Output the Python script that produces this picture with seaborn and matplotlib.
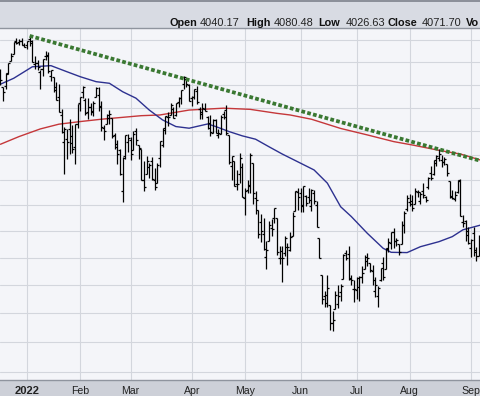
import numpy as np
import pandas as pd
import matplotlib
matplotlib.use("Agg")
import matplotlib.pyplot as plt
from matplotlib.patches import Rectangle
from matplotlib.lines import Line2D
from matplotlib.ticker import NullLocator
import seaborn as sns

# ---------------- data ----------------
market_holidays = ["2021-12-24", "2022-01-17", "2022-02-21", "2022-04-15",
                   "2022-05-30", "2022-06-20", "2022-07-04", "2022-09-05"]
first_day, last_day = "2021-12-17", "2022-09-08"

opens = [
    4652, 4588, 4595, 4650, 4703, 4734, 4795, 4789, 4795, 4775,
    4778, 4804, 4788, 4693, 4698, 4656, 4670, 4729, 4733, 4637, 4632, 4588, 4547, 4471, 4356, 4366, 4408, 4380, 4336, 4431,
    4519, 4566, 4535, 4483, 4505, 4480, 4547, 4553, 4506, 4413, 4429, 4456, 4456, 4385, 4333, 4324, 4155, 4298, 4354,
    4363, 4322, 4401, 4342, 4327, 4202, 4224, 4252, 4279, 4202, 4188, 4288, 4345, 4407, 4462, 4469, 4494, 4469, 4523, 4541, 4603, 4624, 4600,
    4540, 4547, 4572, 4494, 4474, 4494, 4462, 4437, 4394, 4449, 4385, 4390, 4473, 4490, 4385, 4255, 4278, 4186, 4223, 4253,
    4131, 4159, 4182, 4270, 4128, 4081, 4035, 3991, 3903, 3963, 4013, 4052, 4052, 3900, 3927, 3919, 3942, 3929, 3984, 4077, 4151,
    4149, 4096, 4137, 4134, 4096, 4147, 4102, 3974, 3838, 3763, 3765, 3728, 3665, 3715, 3733, 3774, 3821, 3920, 3913, 3826, 3785,
    3781, 3792, 3831, 3858, 3888, 3880, 3851, 3779, 3763, 3818, 3883, 3860, 3935, 3955, 3998, 3965, 3953, 3951, 4026, 4087,
    4112, 4104, 4107, 4154, 4116, 4155, 4133, 4171, 4227, 4225, 4269, 4290, 4281, 4273, 4266, 4195, 4133, 4126, 4154, 4198, 4034, 4041, 4000,
    3936, 3994, 3930, 3909, 3959,
]
highs = [
    4667, 4588, 4651, 4698, 4741, 4791, 4807, 4804, 4809, 4787,
    4797, 4819, 4798, 4725, 4708, 4666, 4714, 4749, 4745, 4666, 4632, 4612, 4602, 4494, 4417, 4411, 4453, 4428, 4432, 4516,
    4546, 4595, 4542, 4540, 4522, 4531, 4590, 4588, 4527, 4426, 4472, 4490, 4456, 4394, 4362, 4327, 4294, 4385, 4388,
    4375, 4401, 4416, 4342, 4327, 4276, 4299, 4268, 4292, 4247, 4271, 4358, 4412, 4465, 4481, 4522, 4501, 4520, 4546, 4575, 4637, 4627, 4603,
    4549, 4583, 4593, 4504, 4521, 4521, 4464, 4471, 4453, 4452, 4410, 4471, 4488, 4513, 4385, 4299, 4278, 4240, 4308, 4269,
    4169, 4200, 4308, 4270, 4157, 4081, 4068, 4050, 3964, 4038, 4046, 4091, 4052, 3945, 3943, 3981, 3955, 3999, 4075, 4158, 4169,
    4167, 4178, 4142, 4169, 4165, 4160, 4119, 3974, 3838, 3778, 3837, 3728, 3708, 3780, 3801, 3803, 3914, 3928, 3946, 3837, 3818,
    3830, 3832, 3870, 3910, 3919, 3880, 3873, 3829, 3796, 3863, 3902, 3939, 3974, 3999, 4012, 3975, 3953, 4040, 4079, 4140,
    4145, 4140, 4168, 4161, 4152, 4187, 4137, 4211, 4258, 4280, 4302, 4325, 4302, 4293, 4266, 4195, 4160, 4157, 4201, 4203, 4062, 4044, 4015,
    3970, 4018, 3942, 3987, 4011,
]
lows = [
    4600, 4531, 4583, 4645, 4703, 4734, 4780, 4778, 4775, 4766,
    4758, 4774, 4699, 4671, 4663, 4582, 4638, 4711, 4650, 4614, 4568, 4533, 4483, 4395, 4223, 4287, 4304, 4309, 4264, 4415,
    4484, 4544, 4470, 4451, 4471, 4465, 4547, 4484, 4401, 4364, 4429, 4429, 4373, 4327, 4267, 4221, 4115, 4287, 4315,
    4283, 4322, 4345, 4284, 4199, 4158, 4224, 4209, 4202, 4161, 4187, 4251, 4335, 4390, 4424, 4469, 4455, 4466, 4505, 4517, 4581, 4588, 4530,
    4507, 4539, 4514, 4450, 4450, 4485, 4408, 4381, 4392, 4392, 4370, 4390, 4452, 4384, 4267, 4201, 4175, 4162, 4188, 4132,
    4063, 4147, 4148, 4106, 4068, 3975, 3958, 3928, 3859, 3963, 3983, 4033, 3911, 3876, 3810, 3909, 3875, 3925, 3984, 4077, 4083,
    4073, 4074, 4098, 4109, 4080, 4107, 4017, 3900, 3734, 3722, 3722, 3640, 3637, 3715, 3717, 3743, 3821, 3891, 3820, 3800, 3739,
    3752, 3742, 3809, 3858, 3869, 3847, 3802, 3759, 3722, 3817, 3818, 3860, 3922, 3933, 3938, 3946, 3910, 3951, 3992, 4079,
    4096, 4079, 4107, 4135, 4107, 4129, 4112, 4164, 4201, 4219, 4256, 4277, 4253, 4261, 4218, 4129, 4124, 4119, 4147, 4058, 4017, 3965, 3954,
    3904, 3906, 3887, 3906, 3945,
]
closes = [
    4621, 4568, 4649, 4697, 4726, 4791, 4786, 4793, 4779, 4766,
    4797, 4794, 4701, 4696, 4677, 4670, 4713, 4726, 4659, 4663, 4577, 4533, 4483, 4398, 4410, 4356, 4350, 4327, 4432, 4516,
    4547, 4589, 4477, 4501, 4484, 4522, 4587, 4504, 4419, 4402, 4471, 4475, 4380, 4349, 4305, 4226, 4289, 4385, 4374,
    4306, 4387, 4363, 4329, 4201, 4171, 4278, 4260, 4204, 4173, 4262, 4358, 4412, 4463, 4461, 4512, 4456, 4520, 4543, 4576, 4632, 4602, 4530,
    4546, 4583, 4525, 4481, 4500, 4488, 4413, 4397, 4447, 4393, 4392, 4462, 4459, 4394, 4272, 4296, 4175, 4184, 4288, 4132,
    4155, 4175, 4300, 4147, 4123, 3991, 4001, 3935, 3930, 4024, 4008, 4089, 3924, 3901, 3901, 3974, 3941, 3979, 4058, 4158, 4132,
    4101, 4177, 4109, 4121, 4161, 4116, 4018, 3901, 3750, 3735, 3790, 3667, 3675, 3765, 3760, 3796, 3912, 3900, 3822, 3819, 3785,
    3825, 3831, 3845, 3903, 3899, 3854, 3819, 3802, 3790, 3863, 3831, 3937, 3960, 3999, 3962, 3967, 3921, 4024, 4072, 4130,
    4119, 4091, 4155, 4152, 4145, 4140, 4122, 4210, 4207, 4280, 4297, 4305, 4274, 4284, 4228, 4138, 4129, 4141, 4199, 4058, 4031, 3986, 3955,
    3967, 3924, 3908, 3980, 4006,
]

# 50-day moving average (blue), read at trading-day offsets from 2022-01-03
ma50_days = [-10, -5, 2, 9, 15, 20, 26, 31, 36, 41, 46, 51, 56, 61, 68, 71, 76, 81,
             86, 91, 96, 103, 108, 113, 118, 122, 128, 134, 137, 143, 148, 155, 160, 164, 171]
ma50_vals = [4602, 4628, 4679, 4684, 4657, 4635, 4613, 4606, 4569, 4541, 4490, 4448, 4420, 4413, 4431, 4420, 4399, 4381,
             4367, 4336, 4306, 4268, 4241, 4188, 4095, 4057, 3993, 3936, 3921, 3920, 3942, 3961, 3980, 4006, 4025]
# 200-day moving average (red)
ma200_days = [-10, -3, 5, 12, 20, 28, 35, 43, 50, 61, 74, 84, 94, 99, 107, 118, 128, 138, 145, 155, 163, 171]
ma200_vals = [4346, 4378, 4410, 4430, 4441, 4451, 4458, 4466, 4469, 4490, 4498, 4493, 4476, 4469, 4451, 4412, 4385,
              4357, 4343, 4321, 4306, 4280]
# down-trend line through the January, March and August highs
trend_days = [1, 171]
trend_vals = [4818.62, 4277]

month_starts = ["2022-01-03", "2022-02-01", "2022-03-01", "2022-04-01", "2022-05-02",
                "2022-06-01", "2022-07-01", "2022-08-01", "2022-09-01"]
month_labels = ["2022", "Feb", "Mar", "Apr", "May", "Jun", "Jul", "Aug", "Sep"]
grid_prices = list(range(3500, 4900, 100))

header_names = ["Open", "High", "Low", "Close", "Vo"]
header_values = ["4040.17", "4080.48", "4026.63", "4071.70", ""]

# ---------------- build ----------------
days = pd.bdate_range(first_day, last_day).difference(pd.to_datetime(market_holidays))
origin = days.get_loc(pd.Timestamp("2022-01-03"))
idx = np.arange(len(days)) - origin
df = pd.DataFrame({"day": idx, "open": opens, "high": highs, "low": lows, "close": closes})
month_pos = [days.get_loc(pd.Timestamp(d)) - origin for d in month_starts]

sns.set_theme(style="whitegrid")
plt.rcParams["font.family"] = ["Liberation Sans", "DejaVu Sans"]

W, H = 480, 396
fig = plt.figure(figsize=(W / 100, H / 100), dpi=100)
fig.patch.set_facecolor("#d7dae2")

top_px, bot_px = 28, 380
ax = fig.add_axes([0, (H - bot_px) / H, 1, (bot_px - top_px) / H])
ax.set_facecolor("#f4f5f9")

# bottom band & header band
fig.patches.append(Rectangle((0, 0), 1, (H - bot_px) / H, transform=fig.transFigure,
                             facecolor="#cdd0d8", edgecolor="none", zorder=-5))
fig.patches.append(Rectangle((0, (H - top_px) / H), 1, top_px / H, transform=fig.transFigure,
                             facecolor="#d8dbe3", edgecolor="none", zorder=-5))
fig.lines.append(Line2D([0, 1], [1 - 0.5 / H, 1 - 0.5 / H], transform=fig.transFigure,
                        color="#7d828c", lw=1.2))

ax.set_yscale("log")
ax.set_ylim(3472, 4855)
ax.set_xlim(-10.16, 170.43)

ax.set_yticks(grid_prices)
ax.yaxis.set_minor_locator(NullLocator())
ax.set_yticklabels([])
ax.tick_params(axis="y", length=0)
ax.set_xticks(month_pos)
ax.set_xticklabels(month_labels)
ax.tick_params(axis="x", length=3, width=0.8, color="#8a8f99", pad=1.0,
               labelsize=7.6, labelcolor="#222222", direction="out")
ax.get_xticklabels()[0].set_fontweight("bold")
ax.get_xticklabels()[0].set_fontsize(8)
ax.grid(True, which="major", color="#d3d6dd", lw=0.8)
ax.set_axisbelow(True)
for s in ["left", "right"]:
    ax.spines[s].set_visible(False)
for s in ["top", "bottom"]:
    ax.spines[s].set_color("#8f949e")
    ax.spines[s].set_linewidth(1.0)

# moving averages
sns.lineplot(x=ma200_days, y=ma200_vals, ax=ax, color="#c5373a", lw=1.0, zorder=2)
sns.lineplot(x=ma50_days, y=ma50_vals, ax=ax, color="#2d3190", lw=1.0, zorder=2)

# OHLC bars
ax.vlines(df["day"], df["low"], df["high"], color="black", lw=0.9, zorder=3)
ax.hlines(df["open"], df["day"] - 0.75, df["day"], color="black", lw=0.9, zorder=3)
ax.hlines(df["close"], df["day"], df["day"] + 0.75, color="black", lw=0.9, zorder=3)

# trend line
sns.lineplot(x=trend_days, y=trend_vals, ax=ax, color="#3a7832", lw=2.7,
             linestyle=(0, (1.0, 0.6)), zorder=4)

ax.set_xlabel("")
ax.set_ylabel("")

# header texts
name_x = [170, 246, 318, 388, 466]
value_x = [200, 274, 346, 422, 0]
base_y = (H - 26) / H
for nm, nx, val, vx in zip(header_names, name_x, header_values, value_x):
    fig.text(nx / W, base_y, nm, fontsize=7.8, fontweight="bold", color="#111111", va="baseline")
    if val:
        fig.text(vx / W, base_y, val, fontsize=7.9, color="#222222", va="baseline")

fig.savefig("out.png", dpi=100)
